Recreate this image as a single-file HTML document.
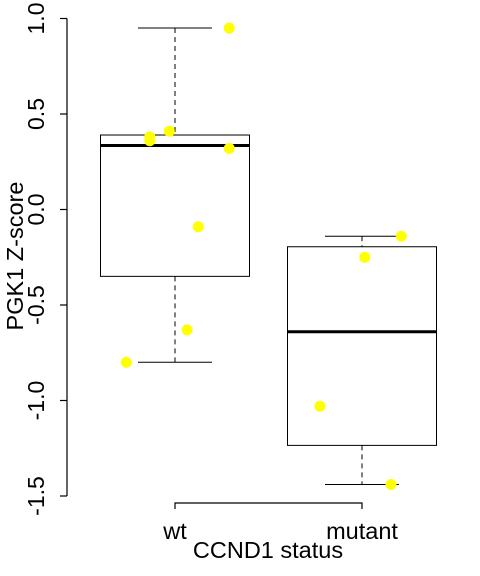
<!DOCTYPE html>
<html><head><meta charset="utf-8"><style>
body{margin:0;background:#fff;}
svg{display:block;font-family:"Liberation Sans",Arial,sans-serif;}
</style></head><body>
<svg id="chart" width="480" height="576"></svg>
<script>
const categories=["wt","mutant"];
const boxMin=[-0.80,-1.44];
const boxQ1=[-0.35,-1.235];
const boxMedian=[0.335,-0.64];
const boxQ3=[0.39,-0.195];
const boxMax=[0.95,-0.14];
const wtPoints=[0.95,0.41,0.38,0.36,0.32,-0.09,-0.63,-0.80];
const wtJitter=[0.29,-0.03,-0.135,-0.135,0.29,0.125,0.065,-0.26];
const mutPoints=[-0.14,-0.25,-1.03,-1.44];
const mutJitter=[0.21,0.015,-0.225,0.155];
const yTicks=[-1.5,-1.0,-0.5,0.0,0.5,1.0];
const yTickLabels=["-1.5","-1.0","-0.5","0.0","0.5","1.0"];

const NS="http://www.w3.org/2000/svg";
const svg=document.getElementById('chart');
const y=v=>209.5-191*v;
const x=i=>175+187*i;
function mk(t,a){const e=document.createElementNS(NS,t);for(const k in a)e.setAttribute(k,a[k]);svg.appendChild(e);return e;}
let ax=mk('line',{x1:67,x2:67,y1:y(1.0),y2:y(-1.5),stroke:'#000','stroke-width':1.2});


yTicks.forEach((v,i)=>{
 const t=mk('line',{x1:60,x2:67,y1:y(v),y2:y(v),stroke:'#000','stroke-width':1.2});
 
 
 const l=mk('text',{x:0,y:0,'font-size':23,'text-anchor':'middle',transform:`translate(44,${y(v)}) rotate(-90)`});
 l.textContent=yTickLabels[i];
 
 
});
let yt=mk('text',{x:0,y:0,'font-size':23.5,'text-anchor':'middle',transform:'translate(23,256) rotate(-90)'});
yt.textContent='PGK1 Z-score';


let xa=mk('path',{d:`M${x(0)},509V503H${x(1)}V509`,fill:'none',stroke:'#000','stroke-width':1.2});


categories.forEach((c,i)=>{
 const l=mk('text',{x:x(i),y:539,'font-size':23.5,'text-anchor':'middle'});
 l.textContent=c;
 
 
});
let xt=mk('text',{x:268,y:558,'font-size':23.5,'text-anchor':'middle'});
xt.textContent='CCND1 status';


const hw=74.5, cw=37;
categories.forEach((c,i)=>{
 const cx=x(i);
 const g=mk('g',{});
 
 
 const add=(t,a)=>{const e=document.createElementNS(NS,t);for(const k in a)e.setAttribute(k,a[k]);g.appendChild(e);return e;};
 add('line',{x1:cx,x2:cx,y1:y(boxMax[i]),y2:y(boxQ3[i]),stroke:'#000','stroke-dasharray':'5,4'});
 add('line',{x1:cx,x2:cx,y1:y(boxQ1[i]),y2:y(boxMin[i]),stroke:'#000','stroke-dasharray':'5,4'});
 add('line',{x1:cx-cw,x2:cx+cw,y1:y(boxMax[i]),y2:y(boxMax[i]),stroke:'#000'});
 add('line',{x1:cx-cw,x2:cx+cw,y1:y(boxMin[i]),y2:y(boxMin[i]),stroke:'#000'});
 add('rect',{x:cx-hw,y:y(boxQ3[i]),width:2*hw,height:y(boxQ1[i])-y(boxQ3[i]),fill:'none',stroke:'#000'});
 add('line',{x1:cx-hw,x2:cx+hw,y1:y(boxMedian[i]),y2:y(boxMedian[i]),stroke:'#000','stroke-width':3});
});
[[wtPoints,wtJitter,0],[mutPoints,mutJitter,1]].forEach(([pts,jit,i])=>{
 pts.forEach((v,k)=>{
  const p=mk('circle',{cx:x(i+jit[k]),cy:y(v),r:5.5,fill:'#ffff00'});
  
  
 });
});
</script>
</body></html>
